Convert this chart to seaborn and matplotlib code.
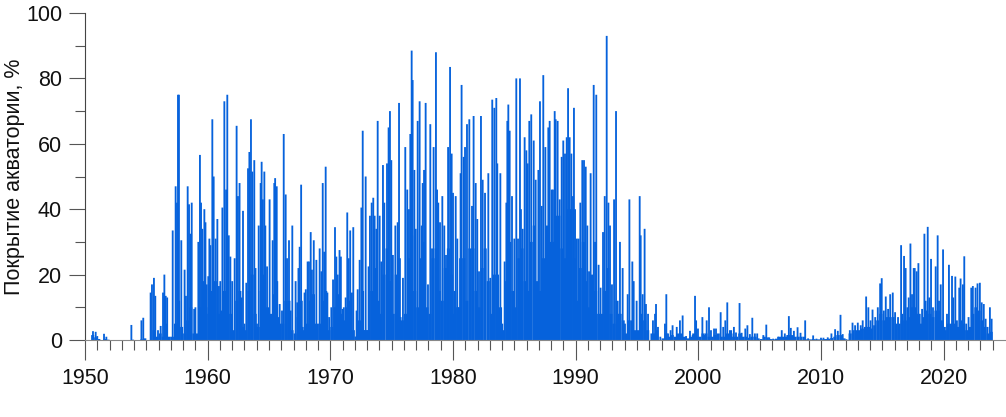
import numpy as np
import matplotlib.pyplot as plt
import seaborn as sns

plt.switch_backend('Agg')
sns.set_style('ticks')
plt.rcParams['font.family'] = ['Liberation Sans', 'DejaVu Sans']

BLUE = '#0662DC'
TICK = '#555555'
STICK_WIDTH = 0.15      # years, about two pixels

# spikes, date and coverage in %
t_50 = [1950.65, 1950.87, 1951.0, 1951.55, 1951.74, 1953.78, 1954.6, 1954.75, 1955.35, 1955.46, 1955.62, 1955.73, 1955.95, 1956.17, 1956.36, 1956.47, 1956.58, 1956.7,
        1957.15, 1957.39, 1957.5, 1957.58, 1957.66, 1957.85, 1958.12, 1958.23, 1958.37, 1958.48, 1958.6, 1958.7, 1958.9, 1959.0, 1959.24, 1959.37, 1959.46, 1959.56, 1959.73, 1959.82, 1959.92]
v_50 = [2.7, 2.5, 1.2, 1.9, 1.0, 4.6, 6.0, 6.8, 14.5, 17.0, 19.0, 13.5, 3.0, 4.3, 14.5, 20.0, 13.5, 13.0,
        33.5, 47.0, 42.0, 75.0, 75.0, 30.5, 21.5, 13.5, 47.0, 41.5, 32.5, 42.0, 9.5, 10.0, 30.0, 56.6, 42.0, 34.0, 40.0, 36.0, 17.0]

t_60 = [1960.05, 1960.14, 1960.22, 1960.38, 1960.49, 1960.65, 1960.79, 1960.92, 1961.03, 1961.2, 1961.36, 1961.5, 1961.6, 1961.72, 1961.85, 1962.0,
        1962.2, 1962.36, 1962.47, 1962.6, 1962.77, 1962.88, 1963.0, 1963.15, 1963.29, 1963.4, 1963.53, 1963.64, 1963.8, 1963.9,
        1964.02, 1964.16, 1964.32, 1964.4, 1964.5, 1964.62, 1964.7, 1964.84, 1965.05, 1965.3, 1965.43, 1965.5, 1965.63, 1965.76, 1965.87,
        1966.06, 1966.2, 1966.36, 1966.47, 1966.63, 1966.77, 1966.9, 1967.17, 1967.3, 1967.4, 1967.5, 1967.62, 1967.75, 1967.9, 1968.0,
        1968.15, 1968.26, 1968.4, 1968.5, 1968.65, 1968.86, 1969.13, 1969.27, 1969.38, 1969.5, 1969.62, 1969.76, 1969.9]
v_60 = [19.5, 31.0, 29.0, 67.5, 50.0, 31.0, 37.0, 16.5, 18.0, 40.5, 73.0, 46.0, 75.0, 32.0, 25.5, 18.0,
        25.0, 65.5, 44.0, 48.0, 13.0, 39.5, 5.0, 17.5, 52.5, 57.5, 67.5, 51.5, 55.0, 22.0,
        5.0, 35.0, 48.0, 54.5, 43.0, 51.5, 35.0, 22.5, 43.0, 30.5, 48.0, 49.5, 47.0, 7.0, 11.0,
        9.0, 63.0, 44.5, 25.0, 30.5, 9.0, 35.0, 18.0, 11.5, 22.0, 28.5, 47.5, 4.0, 14.5, 15.5,
        24.0, 24.0, 33.0, 21.5, 30.5, 24.5, 28.0, 21.0, 48.0, 27.0, 53.0, 14.5, 7.0]

t_70 = [1970.08, 1970.22, 1970.38, 1970.49, 1970.6, 1970.75, 1970.86, 1971.0, 1971.1, 1971.25, 1971.38, 1971.5, 1971.62, 1971.76, 1971.87,
        1972.06, 1972.14, 1972.23, 1972.39, 1972.53, 1972.64, 1972.8, 1972.88, 1973.0, 1973.12, 1973.23, 1973.37, 1973.5, 1973.61, 1973.75, 1973.86, 1974.02,
        1974.15, 1974.29, 1974.4, 1974.62, 1974.75, 1974.86, 1974.97, 1975.1, 1975.3, 1975.49, 1975.6, 1975.73, 1975.92,
        1976.11, 1976.27, 1976.41, 1976.52, 1976.63, 1976.71, 1976.85, 1976.96, 1977.12, 1977.28, 1977.45, 1977.53, 1977.64, 1977.77, 1977.96,
        1978.15, 1978.29, 1978.42, 1978.61, 1978.7, 1978.8, 1978.94, 1979.13, 1979.29, 1979.43, 1979.6, 1979.76, 1979.89]
v_70 = [10.0, 18.5, 34.5, 25.5, 20.0, 27.5, 25.5, 9.5, 10.0, 13.0, 39.0, 25.0, 33.5, 14.5, 34.5,
        1.0, 9.0, 15.5, 24.5, 40.5, 64.0, 3.0, 50.0, 3.0, 22.5, 38.0, 42.0, 43.5, 38.0, 34.0, 67.0, 38.0,
        24.0, 53.5, 42.0, 54.0, 65.0, 70.0, 55.0, 26.0, 35.0, 36.0, 72.5, 7.0, 19.0,
        59.0, 46.0, 40.0, 63.0, 88.5, 79.5, 52.0, 34.0, 67.0, 73.0, 35.0, 48.0, 52.0, 72.5, 17.0,
        66.0, 28.0, 59.0, 88.0, 46.0, 42.0, 36.0, 44.0, 35.0, 26.0, 59.0, 83.5, 57.0]

t_80 = [1980.0, 1980.11, 1980.22, 1980.35, 1980.49, 1980.62, 1980.7, 1980.87, 1980.98, 1981.14, 1981.33, 1981.55, 1981.68, 1981.85, 1981.98,
        1982.12, 1982.28, 1982.42, 1982.61, 1982.88, 1983.04, 1983.2, 1983.37, 1983.53, 1983.61, 1983.86, 1984.02, 1984.21, 1984.35, 1984.43, 1984.51, 1984.62, 1984.81,
        1985.0, 1985.16, 1985.3, 1985.46, 1985.54, 1985.68, 1985.84, 1985.98, 1986.09, 1986.22, 1986.38, 1986.58, 1986.74, 1986.96,
        1987.09, 1987.23, 1987.36, 1987.53, 1987.77, 1987.88, 1988.04, 1988.15, 1988.29, 1988.37, 1988.53, 1988.7, 1988.86, 1988.99,
        1989.13, 1989.27, 1989.38, 1989.51, 1989.65, 1989.78, 1989.86, 1989.95]
v_80 = [45.0, 15.0, 44.0, 31.0, 10.0, 51.0, 78.0, 56.0, 59.0, 66.0, 67.5, 41.0, 68.5, 48.0, 37.0,
        21.0, 68.5, 49.0, 45.0, 51.0, 19.0, 73.5, 71.0, 74.0, 54.0, 51.0, 5.0, 24.0, 42.0, 67.0, 72.0, 64.0, 44.0,
        31.0, 80.0, 31.0, 80.0, 40.0, 34.0, 62.0, 58.0, 54.0, 67.0, 69.0, 61.0, 49.0, 52.0,
        73.0, 41.0, 81.0, 59.0, 65.0, 67.0, 46.0, 46.0, 70.0, 67.5, 67.0, 43.0, 56.0, 61.0,
        57.0, 62.0, 77.0, 62.0, 57.0, 44.0, 71.0, 40.0]

t_90 = [1990.1, 1990.24, 1990.38, 1990.54, 1990.68, 1990.82, 1990.95, 1991.09, 1991.22, 1991.33, 1991.47, 1991.58, 1991.68, 1991.87,
        1992.03, 1992.23, 1992.37, 1992.53, 1992.67, 1992.8, 1992.96, 1993.13, 1993.29, 1993.48, 1993.61, 1993.83,
        1994.02, 1994.24, 1994.38, 1994.62, 1994.73, 1994.97, 1995.22, 1995.3, 1995.46, 1995.62, 1995.73, 1995.9,
        1996.17, 1996.3, 1996.47, 1996.55, 1996.71, 1996.9, 1997.28, 1997.39, 1997.53, 1997.74, 1997.9,
        1998.24, 1998.5, 1998.72, 1999.0, 1999.32, 1999.54, 1999.73, 1999.82, 1999.97]
v_90 = [31.0, 31.0, 42.0, 55.0, 55.0, 53.0, 35.0, 21.0, 51.0, 19.0, 78.0, 30.0, 75.0, 23.0,
        16.0, 33.0, 44.0, 93.0, 42.0, 35.0, 17.0, 43.0, 70.0, 8.0, 30.0, 22.0,
        5.0, 14.0, 43.0, 24.0, 18.0, 12.0, 44.0, 32.0, 14.0, 34.0, 11.0, 8.0,
        2.0, 6.0, 8.0, 11.0, 4.0, 1.0, 5.0, 14.0, 2.0, 3.0, 4.5,
        4.0, 6.0, 7.5, 1.2, 2.8, 1.5, 13.5, 6.0, 3.5]

t_00 = [2000.33, 2000.49, 2000.68, 2000.87, 2001.03, 2001.28, 2001.44, 2001.82, 2002.03, 2002.2, 2002.36, 2002.71, 2002.9, 2003.07, 2003.36, 2003.53, 2003.83, 2004.0,
        2004.2, 2004.4, 2004.61, 2004.8, 2005.3, 2005.54, 2005.78, 2006.1, 2006.5, 2006.8, 2007.05, 2007.25, 2007.38, 2007.54, 2007.79, 2008.09, 2008.33, 2008.71, 2008.95, 2009.36, 2009.63]
v_00 = [7.0, 1.5, 6.0, 10.0, 3.0, 3.5, 3.5, 8.5, 4.0, 6.0, 11.5, 2.0, 4.0, 2.3, 11.3, 2.2, 3.5, 4.5,
        1.8, 6.8, 2.0, 2.0, 1.5, 4.7, 0.8, 0.4, 1.0, 3.0, 2.0, 1.5, 7.3, 3.7, 2.8, 3.9, 2.2, 6.0, 0.5, 1.4, 0.4]

t_10 = [2010.0, 2010.2, 2010.55, 2010.85, 2011.15, 2011.37, 2011.59, 2011.77, 2012.05, 2012.35, 2012.57, 2012.78, 2013.0, 2013.24, 2013.4, 2013.68, 2013.86,
        2014.04, 2014.2, 2014.42, 2014.63, 2014.82, 2014.95, 2015.12, 2015.28, 2015.47, 2015.64, 2015.85, 2016.04, 2016.28, 2016.53, 2016.64, 2016.77, 2016.9,
        2017.04, 2017.15, 2017.29, 2017.42, 2017.56, 2017.64, 2017.8, 2017.94, 2018.05, 2018.24, 2018.43, 2018.53, 2018.7, 2018.83, 2018.97,
        2019.13, 2019.35, 2019.51, 2019.62, 2019.76, 2019.95]
v_10 = [0.7, 0.7, 0.8, 2.0, 3.3, 2.8, 7.7, 1.8, 0.2, 3.0, 5.3, 4.5, 5.3, 4.5, 6.0, 13.3, 10.0,
        6.0, 9.3, 7.0, 10.0, 17.3, 18.9, 9.0, 13.3, 9.5, 14.0, 14.5, 8.5, 7.0, 29.0, 8.0, 25.7, 22.0,
        10.0, 13.0, 29.5, 14.0, 22.0, 22.0, 21.0, 23.5, 8.0, 9.5, 32.5, 12.0, 34.6, 13.0, 24.8,
        10.0, 22.5, 32.0, 12.0, 17.0, 27.7]

t_20 = [2020.1, 2020.27, 2020.43, 2020.68, 2020.78, 2020.95, 2021.08, 2021.27, 2021.38, 2021.57, 2021.68, 2021.84,
        2022.03, 2022.25, 2022.38, 2022.6, 2022.76, 2022.95, 2023.1, 2023.27, 2023.42, 2023.58, 2023.77, 2023.91]
v_20 = [4.0, 8.0, 23.0, 19.6, 13.0, 19.4, 6.0, 16.0, 18.8, 17.0, 25.6, 5.0,
        7.0, 16.0, 16.5, 16.0, 17.3, 17.5, 11.5, 11.0, 6.5, 4.0, 10.0, 6.5]

# solid part under the spikes, four values a year from 1950 on
floor_50s = [0, 0, 1.5, 0.8, 0.3, 0, 0.3, 0.1, 0, 0, 0, 0, 0, 0, 0, 0.1, 0, 0, 0.2, 0.5,
             0, 0, 3, 1, 2, 1, 5, 1, 1, 5, 12, 4, 2, 6, 10, 2, 2, 10, 18, 8]
floor_60s = [10, 15, 18, 8, 9, 15, 18, 8, 3, 12, 15, 4, 3, 15, 20, 8, 4, 15, 20, 10,
             8, 14, 18, 5, 5, 12, 12, 3, 2, 7, 12, 3, 5, 12, 14, 5, 5, 12, 15, 3]
floor_70s = [4, 10, 14, 8, 6, 10, 12, 3, 1, 6, 15, 3, 3, 15, 22, 12, 8, 20, 28, 18,
             8, 20, 25, 6, 8, 25, 32, 15, 10, 25, 30, 10, 8, 25, 28, 15, 12, 22, 28, 20]
floor_80s = [8, 10, 25, 25, 12, 28, 28, 15, 10, 22, 28, 18, 8, 20, 20, 10, 3, 18, 30, 15,
             10, 25, 28, 18, 15, 30, 35, 18, 15, 25, 35, 30, 30, 38, 38, 28, 25, 40, 40, 25]
floor_90s = [12, 22, 30, 18, 10, 20, 15, 8, 8, 15, 22, 8, 5, 12, 8, 6, 2, 6, 6, 3,
             3, 8, 6, 3, 0, 2, 3, 0, 0.5, 2, 1, 1.5, 1, 2, 2, 1, 0.5, 1, 2, 1]
floor_00s = [1, 2, 2, 1, 1, 1.5, 2, 1, 1, 2, 3, 1, 1, 2, 1, 1, 0.7, 1, 1, 0.5,
             0.3, 1, 0.8, 0.3, 0.2, 0.4, 1, 1, 1, 1.5, 1.5, 1, 1, 1, 1, 0.2, 0.2, 0.3, 0.2, 0.2]
floor_10s = [0.2, 0.3, 0.4, 0.6, 1, 1.5, 1.5, 0.5, 0.1, 2, 3, 3, 3, 3.5, 4, 4, 3.5, 4.5, 6, 8,
             6, 7, 7, 7, 5, 5, 6, 6, 7, 10, 10, 8, 5, 7, 9, 8, 7, 9, 9, 6]
floor_20s = [3, 5, 5, 5, 4, 6, 5, 3, 4, 8, 10, 9, 6, 4, 2, 2.5]

spike_t = np.array(t_50 + t_60 + t_70 + t_80 + t_90 + t_00 + t_10 + t_20)
spike_v = np.array(v_50 + v_60 + v_70 + v_80 + v_90 + v_00 + v_10 + v_20)
floor_v = np.array(floor_50s + floor_60s + floor_70s + floor_80s + floor_90s + floor_00s + floor_10s + floor_20s)
floor_t = 1950 + (np.arange(len(floor_v)) + 0.5) / 4

fig = plt.figure(figsize=(10.06, 4.17), dpi=100)
ax = fig.add_axes([85 / 1006, 77 / 417, 920 / 1006, 327 / 417])

sns.barplot(x=floor_t, y=floor_v, native_scale=True, color=BLUE, saturation=1, width=1, linewidth=0, errorbar=None, ax=ax)
sns.barplot(x=spike_t, y=spike_v, native_scale=True, color=BLUE, saturation=1,
            width=STICK_WIDTH / np.diff(spike_t).min(), linewidth=0, errorbar=None, ax=ax)
# soft edges, no rounding of the thin bars to whole pixels
for bar in ax.patches:
    bar.set_snap(False)

ax.set_xlim(1950, 2025)
ax.set_ylim(0, 100)
ax.set_xticks(np.arange(1950, 2021, 10))
ax.set_xticks(np.arange(1950, 2025), minor=True)
ax.set_yticks(np.arange(0, 101, 20))
ax.set_yticks(np.arange(0, 101, 10), minor=True)
ax.set_xlabel('')
ax.set_ylabel('Покрытие акватории, %', fontsize=15.5, labelpad=1, color='#111111')

ax.tick_params(axis='x', which='major', length=14.4, width=0.8, color=TICK, labelsize=15.5, pad=6, labelcolor='#111111')
ax.tick_params(axis='x', which='minor', length=7.2, width=0.8, color=TICK)
ax.tick_params(axis='y', which='major', length=11.5, width=0.8, color=TICK, labelsize=15.5, pad=5, labelcolor='#111111')
ax.tick_params(axis='y', which='minor', length=7.2, width=0.8, color=TICK)

for side in ['top', 'right']:
    ax.spines[side].set_visible(False)
ax.spines['left'].set_color('#444444')
ax.spines['bottom'].set_color('#888888')
ax.spines['left'].set_linewidth(0.8)
ax.spines['bottom'].set_linewidth(0.8)

plt.savefig('out.png', dpi=100)
plt.close('all')
